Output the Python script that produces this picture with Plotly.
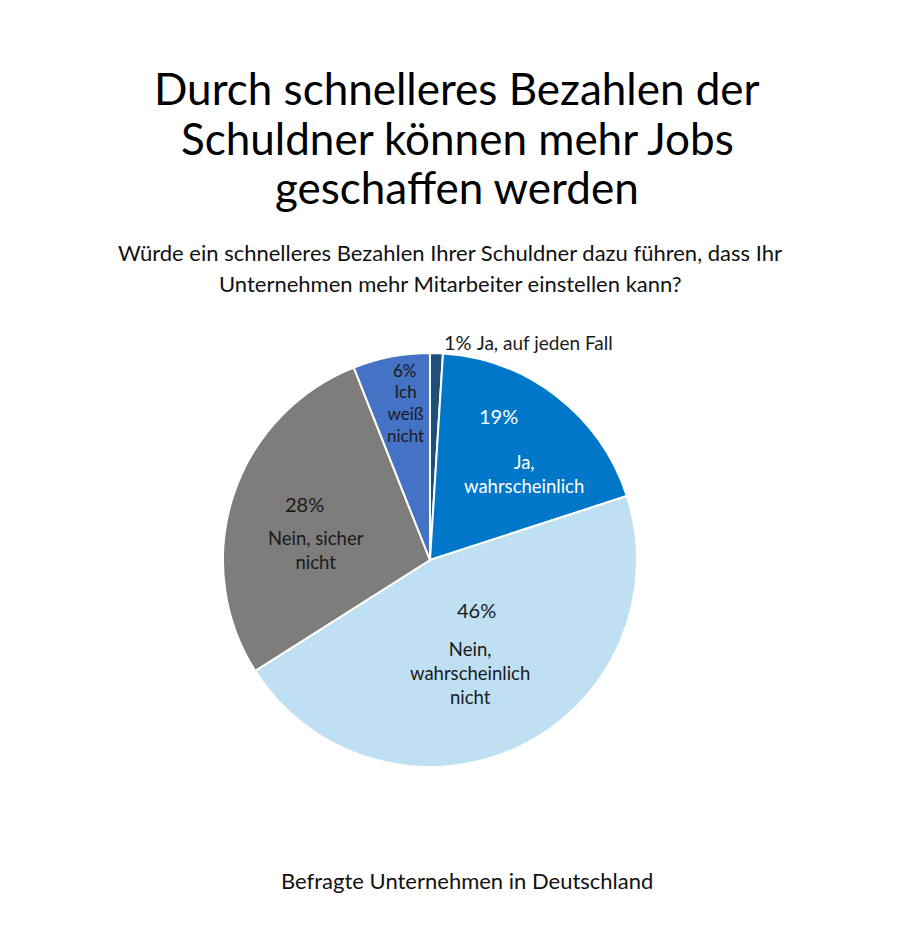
import plotly.graph_objects as go

# Umfragewerte (Anteil in %), im Uhrzeigersinn ab 12 Uhr
antworten = ['Ja, auf jeden Fall', 'Ja, wahrscheinlich', 'Nein, wahrscheinlich nicht',
             'Nein, sicher nicht', 'Ich weiß nicht']
anteile = [1, 19, 46, 28, 6]
farben = ['#1F4E79', '#0077C8', '#BEE0F2', '#7F7C7C', '#4472C4']

# Beschriftung innerhalb der Segmente (Zeilenumbrüche wie im Original)
label_text = ['Ja, auf jeden Fall', 'Ja,<br>wahrscheinlich', 'Nein,<br>wahrscheinlich<br>nicht',
              'Nein, sicher<br>nicht', 'Ich<br>weiß<br>nicht']

titel_zeilen = ['Durch schnelleres Bezahlen der', 'Schuldner können mehr Jobs', 'geschaffen werden']
untertitel_zeilen = ['Würde ein schnelleres Bezahlen Ihrer Schuldner dazu führen, dass Ihr',
                     'Unternehmen mehr Mitarbeiter einstellen kann?']
fusszeile = 'Befragte Unternehmen in Deutschland'

FONT = 'Lato'
W, H = 914, 925
OFF = 8  # Browser-Rand der Seite


def px(x, y):
    return (x - OFF) / W, 1 - (y - OFF) / H


fig = go.Figure()
cx, cy, r = 430, 560, 207
x0, y1 = px(cx - r, cy - r)
x1, y0 = px(cx + r, cy + r)
fig.add_trace(go.Pie(
    labels=antworten,
    values=anteile,
    sort=False,
    direction='clockwise',
    rotation=0,
    marker={'colors': farben, 'line': {'color': 'white', 'width': 2}},
    textinfo='none',
    hoverinfo='label+percent',
    domain={'x': [x0, x1], 'y': [y0, y1]},
    showlegend=False,
))

annotations = []


def add_text(text, x, y, size, color='#111111', xanchor='center'):
    xx, yy = px(x, y)
    annotations.append(dict(
        text=text, x=xx, y=yy, xref='paper', yref='paper',
        xanchor=xanchor, yanchor='middle', showarrow=False, align='center',
        font={'family': FONT, 'size': size, 'color': color}))


# Titel
for zeile, y in zip(titel_zeilen, [88, 138, 187]):
    add_text(zeile, 457, y, 44, 'black')

# Untertitel
for zeile, y in zip(untertitel_zeilen, [253, 283]):
    add_text(zeile, 450, y, 22)

# Fußzeile
add_text(fusszeile, 467, 880, 22)

# Segment-Beschriftungen
pct_pos = [None, (498, 416), (476, 610), (304, 504), (405, 370)]
lbl_pos = [None, (524, 474), (470, 673), (316, 550), (405, 414)]
txt_col = ['#1a1a1a', 'white', '#1a1a1a', '#1a1a1a', '#1a1a1a']

# 1% Segment außen
add_text(f'{anteile[0]}% <span style="font-size:19px">{label_text[0]}</span>',
         442, 342, 20, txt_col[0], xanchor='left')

for i in range(1, len(anteile)):
    add_text(f'{anteile[i]}%', *pct_pos[i], 17 if i == 4 else 20, txt_col[i])
    add_text(label_text[i], *lbl_pos[i], 17 if i == 4 else 18.5, txt_col[i])

fig.update_layout(
    width=W, height=H,
    margin={'l': 0, 'r': 0, 't': 0, 'b': 0},
    paper_bgcolor='white',
    plot_bgcolor='white',
    annotations=annotations,
)

fig.write_html('out.html')
